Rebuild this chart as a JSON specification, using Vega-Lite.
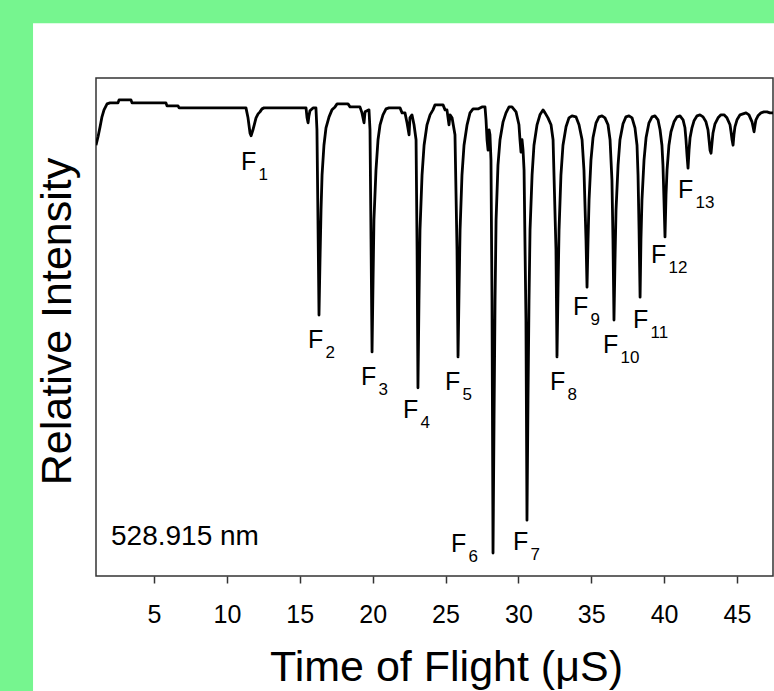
{
  "$schema": "https://vega.github.io/schema/vega-lite/v6.json",
  "width": 677,
  "height": 498,
  "autosize": {"type": "none"},
  "padding": {"left": 96, "top": 78, "right": 1, "bottom": 115},
  "background": "#76f58f",
  "config": {
    "view": {"stroke": null},
    "font": "Liberation Sans",
    "axisX": {
      "grid": false, "domain": false,
      "tickSize": 7, "tickWidth": 1.5, "tickColor": "#333333",
      "labelFontSize": 25, "labelPadding": 19, "labelColor": "black", "labelFont": "Liberation Sans",
      "titleFontSize": 43, "titleFontWeight": "normal", "titleFont": "Liberation Sans", "titleColor": "black",
      "titleX": 350, "titleY": 104, "titleBaseline": "alphabetic", "titleAlign": "center"
    },
    "axisY": {
      "ticks": false, "labels": false, "grid": false, "domain": false,
      "titleFontSize": 43, "titleFontWeight": "normal", "titleFont": "Liberation Sans", "titleColor": "black",
      "titleX": -26, "titleY": 243, "titleAngle": -90, "titleBaseline": "alphabetic", "titleAlign": "center"
    }
  },
  "datasets": {
    "trace": [
      {"t":1.02,"v":86.5},{"t":1.16,"v":88.2},{"t":1.30,"v":90.2},{"t":1.43,"v":92.2},{"t":1.57,"v":93.6},{"t":1.78,"v":94.8},{"t":1.98,"v":95.0},{"t":2.53,"v":95.0},{"t":2.60,"v":95.6},{"t":3.42,"v":95.6},{"t":3.49,"v":95.0},{"t":5.82,"v":95.0},{"t":5.89,"v":94.4},{"t":6.65,"v":94.4},{"t":6.72,"v":94.0},{"t":11.31,"v":94.0},{"t":11.45,"v":92.0},{"t":11.59,"v":88.9},{"t":11.66,"v":88.4},{"t":11.79,"v":89.6},{"t":11.93,"v":91.2},{"t":12.00,"v":92.0},{"t":12.14,"v":92.8},{"t":12.27,"v":93.2},{"t":12.41,"v":93.8},{"t":12.55,"v":94.0},
      {"t":15.43,"v":94.0},{"t":15.50,"v":92.0},{"t":15.57,"v":91.0},{"t":15.63,"v":92.4},{"t":15.70,"v":93.4},{"t":15.91,"v":94.0},{"t":16.11,"v":94.0},{"t":16.18,"v":89.6},{"t":16.25,"v":71.5},{"t":16.32,"v":52.4},{"t":16.39,"v":63.5},{"t":16.46,"v":73.5},{"t":16.53,"v":80.5},{"t":16.66,"v":86.5},{"t":16.80,"v":90.0},{"t":17.01,"v":92.2},{"t":17.21,"v":93.6},{"t":17.42,"v":94.2},{"t":17.56,"v":94.8},{"t":18.31,"v":94.8},{"t":18.45,"v":94.2},
      {"t":19.13,"v":94.2},{"t":19.27,"v":93.0},{"t":19.41,"v":91.0},{"t":19.48,"v":93.2},{"t":19.75,"v":93.6},{"t":19.82,"v":89.6},{"t":19.89,"v":67.5},{"t":19.96,"v":45.0},{"t":20.03,"v":59.4},{"t":20.09,"v":71.5},{"t":20.23,"v":81.5},{"t":20.37,"v":87.6},{"t":20.51,"v":90.6},{"t":20.71,"v":92.6},{"t":20.92,"v":93.8},{"t":21.12,"v":94.0},
      {"t":21.88,"v":94.0},{"t":22.02,"v":93.0},{"t":22.22,"v":93.0},{"t":22.36,"v":91.0},{"t":22.50,"v":88.6},{"t":22.56,"v":92.0},{"t":22.70,"v":92.6},{"t":22.84,"v":90.6},{"t":22.98,"v":87.6},{"t":23.05,"v":65.5},{"t":23.11,"v":37.8},{"t":23.18,"v":55.4},{"t":23.25,"v":69.5},{"t":23.39,"v":80.5},{"t":23.53,"v":86.5},{"t":23.73,"v":90.6},{"t":23.94,"v":92.6},{"t":24.14,"v":93.6},{"t":24.28,"v":94.6},
      {"t":24.83,"v":94.6},{"t":24.97,"v":93.6},{"t":25.10,"v":93.6},{"t":25.24,"v":90.6},{"t":25.31,"v":92.6},{"t":25.45,"v":92.0},{"t":25.65,"v":88.6},{"t":25.79,"v":65.5},{"t":25.86,"v":44.0},{"t":25.93,"v":57.4},{"t":26.00,"v":69.5},{"t":26.13,"v":80.5},{"t":26.27,"v":86.5},{"t":26.48,"v":90.6},{"t":26.68,"v":93.0},{"t":26.89,"v":93.8},
      {"t":27.23,"v":93.8},{"t":27.50,"v":94.2},{"t":27.71,"v":94.2},{"t":27.78,"v":91.6},{"t":27.85,"v":87.6},{"t":27.92,"v":85.5},{"t":27.99,"v":89.6},{"t":28.05,"v":88.6},{"t":28.12,"v":83.5},{"t":28.19,"v":55.4},{"t":28.26,"v":4.6},{"t":28.33,"v":31.3},{"t":28.40,"v":55.4},{"t":28.47,"v":71.5},{"t":28.60,"v":82.5},{"t":28.74,"v":87.6},{"t":28.95,"v":91.2},{"t":29.15,"v":93.0},{"t":29.36,"v":94.2},
      {"t":29.56,"v":94.2},{"t":29.84,"v":93.2},{"t":30.04,"v":90.6},{"t":30.11,"v":87.6},{"t":30.18,"v":85.1},{"t":30.25,"v":87.6},{"t":30.32,"v":85.5},{"t":30.39,"v":81.5},{"t":30.52,"v":51.4},{"t":30.59,"v":11.2},{"t":30.66,"v":35.3},{"t":30.73,"v":55.4},{"t":30.80,"v":69.5},{"t":30.94,"v":80.5},{"t":31.07,"v":86.5},{"t":31.28,"v":90.6},{"t":31.48,"v":92.6},{"t":31.69,"v":93.6},
      {"t":31.83,"v":93.0},{"t":32.03,"v":92.0},{"t":32.24,"v":90.6},{"t":32.38,"v":87.6},{"t":32.58,"v":65.5},{"t":32.65,"v":44.0},{"t":32.72,"v":57.4},{"t":32.79,"v":69.5},{"t":32.92,"v":80.5},{"t":33.06,"v":86.5},{"t":33.27,"v":90.2},{"t":33.47,"v":92.0},{"t":33.68,"v":92.4},
      {"t":33.95,"v":92.2},{"t":34.16,"v":90.6},{"t":34.37,"v":87.6},{"t":34.50,"v":81.5},{"t":34.64,"v":67.5},{"t":34.71,"v":58.0},{"t":34.78,"v":67.5},{"t":34.85,"v":75.5},{"t":34.98,"v":83.5},{"t":35.12,"v":88.0},{"t":35.33,"v":91.0},{"t":35.53,"v":92.2},{"t":35.74,"v":92.4},
      {"t":35.94,"v":92.0},{"t":36.15,"v":90.6},{"t":36.29,"v":87.6},{"t":36.42,"v":79.5},{"t":36.49,"v":67.5},{"t":36.56,"v":51.4},{"t":36.63,"v":63.5},{"t":36.70,"v":73.5},{"t":36.84,"v":82.5},{"t":36.97,"v":87.6},{"t":37.18,"v":90.8},{"t":37.38,"v":92.2},{"t":37.59,"v":92.4},
      {"t":37.80,"v":92.0},{"t":38.00,"v":90.0},{"t":38.14,"v":86.5},{"t":38.21,"v":80.5},{"t":38.28,"v":69.5},{"t":38.35,"v":56.0},{"t":38.41,"v":67.5},{"t":38.48,"v":75.5},{"t":38.62,"v":83.5},{"t":38.76,"v":88.0},{"t":38.96,"v":91.0},{"t":39.17,"v":92.2},{"t":39.37,"v":92.4},
      {"t":39.58,"v":91.6},{"t":39.72,"v":89.6},{"t":39.85,"v":86.5},{"t":39.92,"v":82.5},{"t":39.99,"v":75.5},{"t":40.06,"v":68.1},{"t":40.13,"v":76.5},{"t":40.20,"v":81.5},{"t":40.33,"v":86.5},{"t":40.47,"v":89.2},{"t":40.68,"v":91.2},{"t":40.88,"v":92.2},{"t":41.09,"v":92.4},
      {"t":41.30,"v":91.6},{"t":41.43,"v":90.0},{"t":41.50,"v":87.6},{"t":41.57,"v":84.5},{"t":41.64,"v":81.9},{"t":41.71,"v":85.5},{"t":41.78,"v":88.0},{"t":41.91,"v":90.0},{"t":42.05,"v":91.4},{"t":42.26,"v":92.4},{"t":42.46,"v":92.6},
      {"t":42.67,"v":92.2},{"t":42.87,"v":91.2},{"t":43.01,"v":89.6},{"t":43.08,"v":87.6},{"t":43.15,"v":85.5},{"t":43.22,"v":84.9},{"t":43.29,"v":87.1},{"t":43.35,"v":88.9},{"t":43.49,"v":90.8},{"t":43.70,"v":92.0},{"t":43.90,"v":92.6},{"t":44.11,"v":92.6},
      {"t":44.31,"v":92.0},{"t":44.52,"v":90.6},{"t":44.59,"v":89.2},{"t":44.66,"v":87.6},{"t":44.73,"v":86.5},{"t":44.79,"v":88.6},{"t":44.86,"v":90.2},{"t":45.00,"v":91.6},{"t":45.21,"v":92.6},{"t":45.41,"v":92.8},{"t":45.62,"v":93.0},
      {"t":45.82,"v":92.6},{"t":46.03,"v":91.2},{"t":46.10,"v":90.2},{"t":46.17,"v":89.2},{"t":46.24,"v":90.6},{"t":46.30,"v":91.6},{"t":46.44,"v":92.4},{"t":46.65,"v":93.0},{"t":46.85,"v":93.2},{"t":47.06,"v":93.2},{"t":47.26,"v":93.0},{"t":47.47,"v":93.0}
    ],
    "labels": [
      {"main":"F","sub":"1","t":10.97,"v":81.5},
      {"main":"F","sub":"2","t":15.57,"v":45.8},
      {"main":"F","sub":"3","t":19.20,"v":38.4},
      {"main":"F","sub":"4","t":22.08,"v":31.7},
      {"main":"F","sub":"5","t":24.97,"v":37.3},
      {"main":"F","sub":"6","t":25.38,"v":4.8},
      {"main":"F","sub":"7","t":29.63,"v":5.2},
      {"main":"F","sub":"8","t":32.17,"v":37.3},
      {"main":"F","sub":"9","t":33.75,"v":52.4},
      {"main":"F","sub":"10","t":35.81,"v":44.8},
      {"main":"F","sub":"11","t":37.87,"v":49.8},
      {"main":"F","sub":"12","t":39.10,"v":62.9},
      {"main":"F","sub":"13","t":40.95,"v":75.9}
    ],
    "note": [{"text":"528.915 nm","t":2.05,"v":6.2}]
  },
  "layer": [
    {
      "data": {"values": [{"panel": "background"}]},
      "mark": {"type": "rect", "fill": "white", "clip": false},
      "encoding": {
        "x": {"datum": -3.3, "type": "quantitative"},
        "x2": {"datum": 48.5},
        "y": {"datum": 111, "type": "quantitative"},
        "y2": {"datum": -30}
      }
    },
    {
      "data": {"values": [{"panel": "frame"}]},
      "mark": {"type": "rect", "fill": null, "fillOpacity": 0, "stroke": "#333333", "strokeWidth": 1.5, "clip": false},
      "encoding": {
        "x": {"datum": 1.02, "type": "quantitative"},
        "x2": {"datum": 47.47},
        "y": {"datum": 100, "type": "quantitative"},
        "y2": {"datum": 0}
      }
    },
    {
      "data": {"name": "trace"},
      "mark": {"type": "line", "color": "black", "strokeWidth": 2.8, "strokeJoin": "round", "clip": true},
      "encoding": {
        "x": {
          "field": "t", "type": "quantitative",
          "scale": {"domain": [1.02, 47.47], "nice": false, "zero": false},
          "axis": {"zindex": 5, "values": [5, 10, 15, 20, 25, 30, 35, 40, 45], "title": "Time of Flight (μS)"}
        },
        "y": {
          "field": "v", "type": "quantitative",
          "scale": {"domain": [0, 100], "nice": false, "zero": false},
          "axis": {"zindex": 5, "title": "Relative Intensity"}
        }
      }
    },
    {
      "data": {"name": "labels"},
      "mark": {"type": "text", "align": "left", "baseline": "alphabetic", "fontSize": 25, "font": "Liberation Sans", "color": "black"},
      "encoding": {
        "x": {"field": "t", "type": "quantitative"},
        "y": {"field": "v", "type": "quantitative"},
        "text": {"field": "main"}
      }
    },
    {
      "data": {"name": "labels"},
      "mark": {"type": "text", "align": "left", "baseline": "alphabetic", "fontSize": 17, "font": "Liberation Sans", "color": "black", "dx": 17.5, "dy": 10},
      "encoding": {
        "x": {"field": "t", "type": "quantitative"},
        "y": {"field": "v", "type": "quantitative"},
        "text": {"field": "sub"}
      }
    },
    {
      "data": {"name": "note"},
      "mark": {"type": "text", "align": "left", "baseline": "alphabetic", "fontSize": 28, "font": "Liberation Sans", "color": "black"},
      "encoding": {
        "x": {"field": "t", "type": "quantitative"},
        "y": {"field": "v", "type": "quantitative"},
        "text": {"field": "text"}
      }
    }
  ]
}
